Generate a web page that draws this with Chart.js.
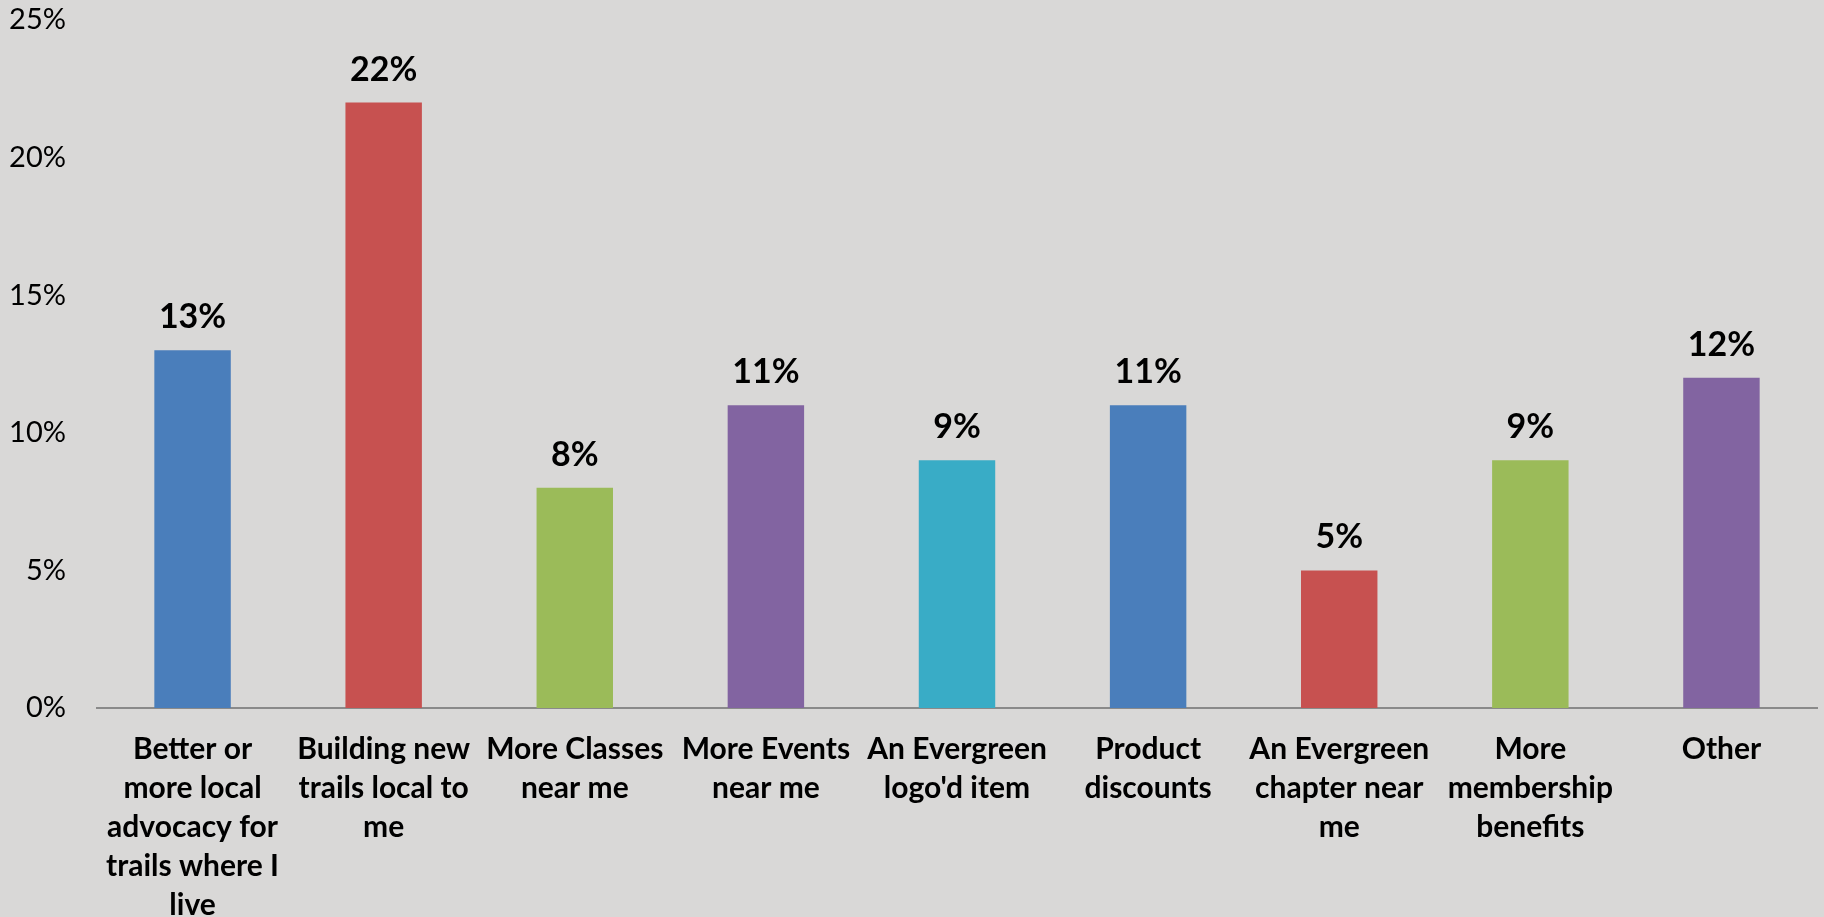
<!DOCTYPE html>
<html>
<head>
<meta charset="utf-8">
<script src="https://cdn.jsdelivr.net/npm/chart.js@4.4.1/dist/chart.umd.min.js"></script>
<style>
  html, body { margin: 0; padding: 0; background: #d9d8d7; }
  #wrap { width: 1824px; height: 917px; position: relative; }
</style>
</head>
<body>
<div id="wrap"><canvas id="chart"></canvas></div>
<script>
const categories = [
  ['Better or', 'more local', 'advocacy for', 'trails where I', 'live'],
  ['Building new', 'trails local to', 'me'],
  ['More Classes', 'near me'],
  ['More Events', 'near me'],
  ['An Evergreen', "logo'd item"],
  ['Product', 'discounts'],
  ['An Evergreen', 'chapter near', 'me'],
  ['More', 'membership', 'benefits'],
  ['Other']
];
const values = [13, 22, 8, 11, 9, 11, 5, 9, 12];
const barColors = ['#4a7ebb', '#c75150', '#9bbb59', '#8264a1', '#39acc6', '#4a7ebb', '#c75150', '#9bbb59', '#8264a1'];
const yTicks = [0, 5, 10, 15, 20, 25];

// percentage labels above each bar
const valueLabels = {
  id: 'valueLabels',
  afterDatasetsDraw(chart) {
    const ctx = chart.ctx;
    const meta = chart.getDatasetMeta(0);
    ctx.save();
    ctx.font = 'bold 34px Lato';
    ctx.fillStyle = '#000';
    ctx.textAlign = 'center';
    ctx.textBaseline = 'middle';
    meta.data.forEach((bar, i) => {
      ctx.fillText(values[i] + '%', bar.x, bar.y - 33);
    });
    ctx.restore();
  }
};

new Chart(document.getElementById('chart'), {
  type: 'bar',
  data: {
    labels: categories,
    datasets: [{
      data: values,
      backgroundColor: barColors,
      borderWidth: 0,
      barPercentage: 0.4,
      categoryPercentage: 1
    }]
  },
  options: {
    responsive: true,
    maintainAspectRatio: false,
    animation: false,
    layout: { padding: { top: 20, right: 7, left: 0, bottom: 0 } },
    plugins: { legend: { display: false }, tooltip: { enabled: false } },
    scales: {
      x: {
        grid: { display: false },
        border: { display: true, color: '#8a8a8a', width: 2 },
        ticks: {
          color: '#000',
          font: { family: 'Lato', size: 30, weight: 'bold', lineHeight: 1.3 },
          padding: 14,
          maxRotation: 0,
          autoSkip: false
        },
        afterFit(scale) { scale.height = 209; }
      },
      y: {
        min: 0,
        max: 25,
        grid: { display: false, drawTicks: false },
        border: { display: false },
        afterBuildTicks(scale) { scale.ticks = yTicks.map(v => ({ value: v })); },
        ticks: {
          color: '#000',
          font: { family: 'Lato', size: 29 },
          padding: 31,
          callback: v => v + '%'
        },
        afterFit(scale) {
          scale.width = 97;
          scale.paddingTop = 0;
          scale.paddingBottom = 0;
        }
      }
    }
  },
  plugins: [valueLabels]
});
</script>
</body>
</html>
